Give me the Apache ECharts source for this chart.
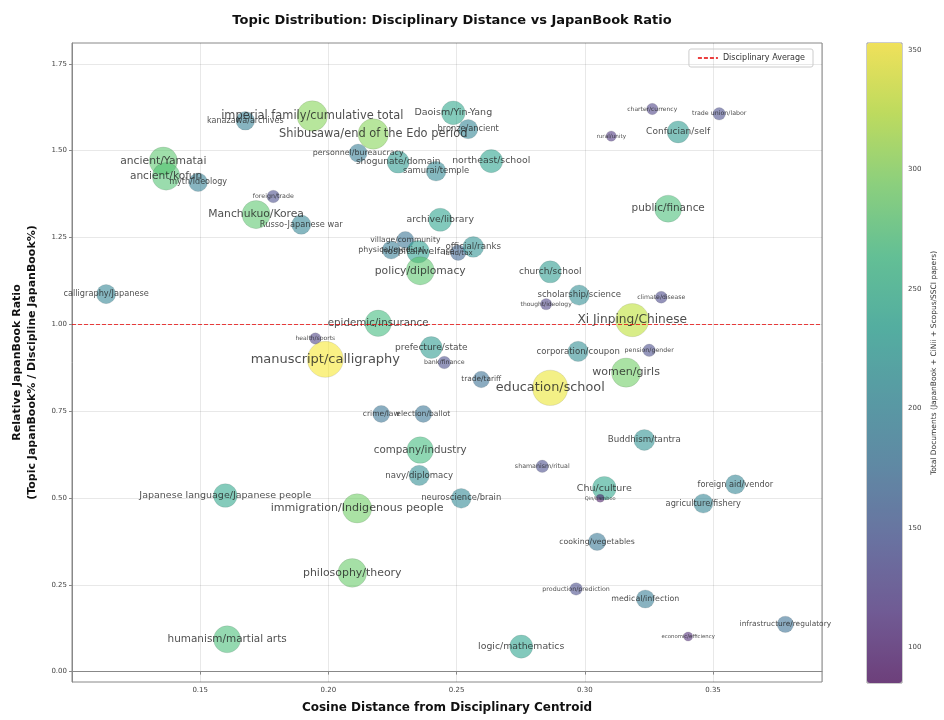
<!DOCTYPE html>
<html>
<head>
<meta charset="utf-8">
<script src="https://cdn.jsdelivr.net/npm/echarts@6/dist/echarts.min.js"></script>
<style>
html, body { margin: 0; padding: 0; background: #fff; }
#chart { width: 944px; height: 720px; }
</style>
</head>
<body>
<div id="chart"></div>
<script>
// topic labels, distance from centroid, relative ratio, total documents
const topics = [
    "kanazawa/archives", "imperial family/cumulative total", "Shibusawa/end of the Edo period",
    "Daoism/Yin-Yang", "bronze/ancient", "personnel/bureaucracy", "shogunate/domain",
    "samurai/temple", "northeast/school", "ancient/Yamatai", "ancient/kofun", "myth/ideology",
    "foreign/trade", "Manchukuo/Korea", "Russo-Japanese war", "archive/library",
    "physical/medical", "village/community", "hospital/welfare", "land/tax", "official/ranks",
    "policy/diplomacy", "calligraphy/Japanese", "church/school", "scholarship/science",
    "thought/ideology", "climate/disease", "Xi Jinping/Chinese", "epidemic/insurance",
    "health/sports", "manuscript/calligraphy", "prefecture/state", "bank/finance",
    "trade/tariff", "education/school", "corporation/coupon", "pension/gender", "women/girls",
    "crime/law", "election/ballot", "company/industry", "navy/diplomacy",
    "Japanese language/Japanese people", "immigration/Indigenous people", "neuroscience/brain",
    "Buddhism/tantra", "shamanism/ritual", "Chu/culture", "Qin/bamboo", "foreign aid/vendor",
    "agriculture/fishery", "cooking/vegetables", "philosophy/theory", "production/prediction",
    "medical/infection", "infrastructure/regulatory", "economic/efficiency",
    "humanism/martial arts", "logic/mathematics", "charter/currency", "trade union/labor",
    "rural/unity", "Confucian/self", "public/finance"
];
const distance = [
    0.1676, 0.1937, 0.2175, 0.2487, 0.2545, 0.2116, 0.2272, 0.2420, 0.2635, 0.1356, 0.1367,
    0.1492, 0.1785, 0.1718, 0.1894, 0.2436, 0.2245, 0.2300, 0.2350, 0.2506, 0.2565, 0.2358,
    0.1133, 0.2865, 0.2978, 0.2849, 0.3298, 0.3185, 0.2194, 0.1949, 0.1988, 0.2401, 0.2452,
    0.2596, 0.2865, 0.2974, 0.3251, 0.3161, 0.2206, 0.2370, 0.2358, 0.2354, 0.1598, 0.2112,
    0.2518, 0.3232, 0.2834, 0.3076, 0.3060, 0.3587, 0.3462, 0.3048, 0.2093, 0.2966, 0.3236,
    0.3782, 0.3403, 0.1605, 0.2752, 0.3263, 0.3524, 0.3103, 0.3364, 0.3325
];
const ratio = [
    1.586, 1.600, 1.548, 1.609, 1.562, 1.493, 1.467, 1.441, 1.470, 1.470, 1.426,
    1.409, 1.368, 1.316, 1.287, 1.301, 1.214, 1.243, 1.209, 1.206, 1.223, 1.154,
    1.087, 1.151, 1.084, 1.058, 1.078, 1.012, 1.003, 0.959, 0.899, 0.933, 0.890,
    0.841, 0.817, 0.922, 0.925, 0.861, 0.742, 0.742, 0.638, 0.565, 0.507, 0.470,
    0.499, 0.667, 0.591, 0.528, 0.499, 0.539, 0.484, 0.374, 0.284, 0.238, 0.209,
    0.136, 0.101, 0.093, 0.072, 1.620, 1.606, 1.542, 1.554, 1.333
];
const totalDocs = [
    195, 300, 300, 240, 200, 190, 225, 205, 235, 280, 275,
    195, 140, 280, 200, 235, 190, 180, 230, 165, 215, 280,
    200, 225, 210, 130, 135, 325, 265, 130, 350, 225, 140,
    175, 345, 210, 140, 290, 180, 180, 265, 210, 240, 290,
    205, 215, 140, 240, 100, 200, 200, 185, 285, 140, 190,
    175, 110, 270, 235, 130, 140, 120, 225, 270
];
const yTicks = [0, 0.25, 0.5, 0.75, 1.0, 1.25, 1.5, 1.75];
const cbTicks = [100, 150, 200, 250, 300, 350];
const averageRatio = 1.0;

const viridis = ["#440154", "#482878", "#3e4989", "#31688e", "#26828e",
                 "#1f9e89", "#35b779", "#6ece58", "#b5de2b", "#fde725"];
const FONT = "DejaVu Sans";

const chart = echarts.init(document.getElementById("chart"));

const points = topics.map((name, i) => {
    const v = totalDocs[i];
    return {
        name: name,
        value: [distance[i], ratio[i], v],
        label: { fontSize: Math.max(5, 6 + (v - 130) * 7 / 220) }
    };
});

chart.setOption({
    animation: false,
    textStyle: { fontFamily: FONT },
    title: {
        text: "Topic Distribution: Disciplinary Distance vs JapanBook Ratio",
        left: 447,
        textAlign: "center",
        top: 9,
        textStyle: { fontFamily: FONT, fontSize: 13, fontWeight: "bold", color: "#111" }
    },
    legend: {
        right: 131,
        top: 49,
        data: ["Disciplinary Average"],
        itemWidth: 20,
        itemHeight: 8,
        padding: [5, 8],
        borderColor: "#ccc",
        borderWidth: 1,
        borderRadius: 2,
        itemStyle: { opacity: 0 },
        textStyle: { fontFamily: FONT, fontSize: 8, color: "#333" }
    },
    grid: [
        {
            left: 72, right: 122, top: 43, bottom: 38, outerBoundsMode: "none",
            show: true, borderColor: "#888", borderWidth: 1
        },
        {
            left: 867, top: 43, width: 35, height: 640, outerBoundsMode: "none",
            show: true, borderColor: "#999", borderWidth: 1
        }
    ],
    xAxis: [
        {
            type: "value",
            min: 0.10,
            max: 0.3925,
            interval: 0.05,
            name: "Cosine Distance from Disciplinary Centroid",
            nameLocation: "middle",
            nameGap: 20,
            nameTextStyle: { fontFamily: FONT, fontSize: 12, fontWeight: "bold", color: "#111" },
            axisLine: { show: true, lineStyle: { color: "#888" } },
            axisTick: { show: true, length: 3, lineStyle: { color: "#888" } },
            axisLabel: {
                showMinLabel: false, showMaxLabel: false, fontSize: 7, color: "#444", margin: 5,
                formatter: v => v.toFixed(2)
            },
            splitLine: { show: true, lineStyle: { color: "rgba(0,0,0,0.09)" } }
        },
        { type: "value", gridIndex: 1, min: 0, max: 1, show: false }
    ],
    yAxis: [
        {
            type: "value",
            min: -0.03,
            max: 1.81,
            name: "Relative JapanBook Ratio\n(Topic JapanBook% / Discipline JapanBook%)",
            nameLocation: "middle",
            nameGap: 32,
            nameTextStyle: { fontFamily: FONT, fontSize: 11, fontWeight: "bold", color: "#111", lineHeight: 15 },
            axisLine: { show: true, lineStyle: { color: "#888" } },
            axisTick: { show: true, length: 3, customValues: yTicks, lineStyle: { color: "#888" } },
            axisLabel: { customValues: yTicks, fontSize: 7, color: "#444", margin: 5, formatter: v => v.toFixed(2) },
            splitLine: { show: true, lineStyle: { color: "rgba(0,0,0,0.09)" } }
        },
        {
            type: "value",
            gridIndex: 1,
            min: 85,
            max: 353,
            position: "right",
            name: "Total Documents (JapanBook + CiNii + Scopus/SSCI papers)",
            nameLocation: "middle",
            nameRotate: 90,
            nameGap: 28,
            nameTextStyle: { fontFamily: FONT, fontSize: 7.5, color: "#333" },
            axisLine: { show: false },
            axisTick: { show: true, length: 3, customValues: cbTicks, lineStyle: { color: "#888" } },
            axisLabel: { customValues: cbTicks, fontSize: 7, color: "#444", margin: 6 },
            splitLine: { show: false }
        }
    ],
    visualMap: {
        type: "continuous",
        seriesIndex: 0,
        dimension: 2,
        min: 85,
        max: 353,
        left: 867,
        top: 43,
        padding: 0,
        itemWidth: 35,
        itemHeight: 640,
        calculable: false,
        showLabel: false,
        inRange: { color: viridis, colorAlpha: 0.7 }
    },
    series: [
        {
            type: "scatter",
            name: "topics",
            data: points,
            symbolSize: val => 8 + (val[2] - 100) * 28 / 250,
            itemStyle: { borderColor: "rgba(60,60,60,0.25)", borderWidth: 0.6 },
            label: {
                show: true,
                position: "inside",
                formatter: p => p.name,
                color: "#222",
                fontFamily: FONT
            },
            markLine: {
                silent: true,
                symbol: "none",
                label: { show: false },
                lineStyle: { color: "rgba(230,0,0,0.75)", type: [4, 2], width: 1 },
                data: [{ yAxis: averageRatio }]
            }
        },
        {
            type: "line",
            name: "Disciplinary Average",
            data: [],
            symbol: "none",
            lineStyle: { color: "rgba(230,0,0,0.75)", type: [4, 2], width: 1 },
            itemStyle: { color: "rgba(230,0,0,0.75)" }
        }
    ]
});
</script>
</body>
</html>
